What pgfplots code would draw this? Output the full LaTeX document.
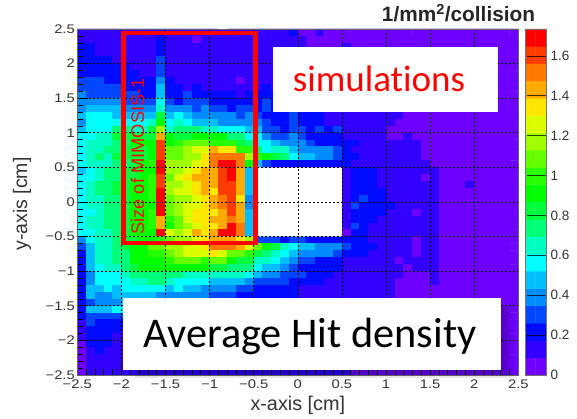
\documentclass[border=0pt]{standalone}
\usepackage{pgfplots}
\usepackage{fontspec}
\pgfplotsset{compat=1.18}
\setmainfont{Liberation Sans}
\newfontfamily\ticks[FakeStretch=1.18]{Liberation Sans}
\newfontfamily\cali[Ligatures=NoCommon]{Carlito}
\pgfplotsset{colormap={root}{rgb255=(110,0,255) rgb255=(50,0,255) rgb255=(0,10,255) rgb255=(0,70,255) rgb255=(0,140,255) rgb255=(0,190,255) rgb255=(0,255,255) rgb255=(0,255,195) rgb255=(0,255,120) rgb255=(0,255,60) rgb255=(0,255,0) rgb255=(40,255,0) rgb255=(100,255,0) rgb255=(160,255,0) rgb255=(220,255,0) rgb255=(255,230,0) rgb255=(255,170,0) rgb255=(255,120,0) rgb255=(255,60,0) rgb255=(255,0,0)}}
\newcount\cx \newcount\cy
\def\coords{}
\newcommand\R[1]{\global\cx=0 \foreach \v in {#1}{\pgfmathsetmacro\xx{-2.45+0.1*\the\cx}\pgfmathsetmacro\yy{2.45-0.1*\the\cy}\pgfmathsetmacro\mm{(\v+0.5)*0.08675}\xdef\coords{\coords(\xx,\yy)[\mm]}\global\advance\cx by 1 }\global\advance\cy by 1 }
\R{1,1,1,1,1,1,1,1,1,2, 1,1,1,1,1,1,1,1,1,1, 1,1,1,1,2,0,0,1,0,0, 0,0,0,0,0,0,0,0,0,0, 0,0,0,0,0,0,0,0,0,0}
\R{1,1,1,1,1,1,1,1,1,2, 1,1,1,0,1,1,1,1,1,1, 1,1,1,1,1,1,0,0,0,0, 0,0,0,0,0,0,0,0,0,0, 0,0,0,0,0,0,0,0,0,0}
\R{2,2,1,1,1,1,1,1,1,2, 1,1,1,1,1,1,1,1,1,1, 1,1,1,1,1,1,0,0,0,0, 1,0,0,0,0,0,0,0,0,0, 0,0,0,0,0,0,0,0,0,0}
\R{2,2,1,1,1,1,1,1,1,2, 1,1,1,1,1,1,1,1,1,1, 1,1,1,1,1,1,1,1,1,1, 1,1,1,0,0,0,0,0,0,0, 0,0,0,0,0,0,0,0,0,0}
\R{2,2,2,2,1,1,1,1,1,3, 1,1,1,1,1,1,1,1,1,1, 1,1,1,1,1,1,1,1,1,1, 1,1,1,0,0,0,0,0,0,0, 0,0,0,0,0,0,0,0,0,0}
\R{2,2,2,2,2,2,1,1,1,3, 1,1,1,1,1,1,1,1,1,1, 1,1,1,1,1,1,1,1,1,1, 1,1,1,1,0,0,0,0,0,0, 0,0,0,0,0,0,0,0,0,0}
\R{2,2,2,2,2,2,2,1,1,3, 1,1,1,1,1,1,1,1,1,1, 1,1,1,1,1,1,1,1,1,1, 1,1,1,1,1,0,0,0,0,0, 0,0,0,0,0,0,0,0,0,0}
\R{3,3,3,2,2,2,2,2,2,4, 2,1,1,1,1,1,1,1,0,1, 1,1,1,1,1,1,1,1,1,1, 1,1,1,1,1,0,0,0,0,0, 0,0,0,0,0,0,0,0,0,0}
\R{3,3,3,3,3,2,2,2,2,5, 2,2,1,2,1,1,1,1,1,1, 1,2,1,1,1,1,1,1,1,1, 1,1,1,1,1,0,0,0,0,0, 0,0,0,0,0,0,0,0,0,0}
\R{4,3,3,3,3,3,3,2,2,5, 2,2,3,2,2,2,2,2,1,2, 2,2,2,2,2,1,1,1,1,1, 1,1,1,1,1,1,0,0,0,0, 0,0,0,0,0,0,0,0,0,0}
\R{4,4,4,4,4,3,3,3,3,6, 3,2,3,3,3,2,2,2,2,2, 2,3,2,2,2,2,2,1,1,1, 1,1,1,1,1,1,0,0,0,0, 0,0,0,0,0,0,0,0,0,0}
\R{4,5,5,5,5,4,4,4,4,7, 4,4,4,3,4,3,3,2,3,3, 2,3,2,2,2,2,2,2,1,1, 1,1,1,1,1,1,0,0,0,0, 0,0,0,0,0,0,0,0,0,0}
\R{5,6,6,6,5,5,5,5,5,9, 5,6,5,4,4,4,4,4,3,4, 3,2,2,2,3,2,2,2,1,1, 1,1,1,1,1,1,1,0,0,0, 0,0,0,0,0,0,0,0,0,0}
\R{4,6,6,6,6,6,6,6,7,10, 6,7,6,5,5,5,4,4,4,4, 4,3,2,2,3,2,2,2,1,1, 1,1,1,1,1,1,0,0,0,0, 0,0,0,0,0,0,0,0,0,0}
\R{5,6,6,6,8,8,7,7,9,13, 7,8,8,8,7,7,6,6,6,5, 5,3,3,2,3,3,2,3,2,3, 1,1,1,1,1,0,0,0,0,0, 0,0,0,0,0,0,0,0,0,0}
\R{6,6,7,7,9,9,9,9,9,16, 10,9,9,10,10,10,10,8,8,6, 6,4,3,3,4,3,2,2,2,2, 1,1,1,1,1,0,0,1,0,0, 0,0,0,0,0,0,0,0,0,0}
\R{6,7,7,7,8,8,10,10,10,18, 10,11,12,12,12,11,11,11,9,8, 6,6,5,4,4,4,3,2,2,2, 2,2,1,1,1,1,1,1,1,0, 0,0,0,0,0,0,0,0,0,0}
\R{6,7,7,8,8,9,9,9,10,18, 12,12,13,14,14,16,15,15,11,11, 8,6,7,7,5,4,4,4,4,3, 2,1,1,1,1,1,1,1,1,0, 0,0,0,0,0,0,0,0,0,0}
\R{6,7,8,7,9,9,9,9,10,18, 12,12,13,13,15,17,17,17,17,13, 11,10,9,8,6,5,5,4,4,3, 2,2,1,1,1,1,1,1,1,0, 0,0,0,0,0,0,0,0,0,0}
\R{6,7,7,7,8,8,9,10,11,19, 13,13,13,14,15,17,19,19,17,10, 5,3,2,2,2,2,2,2,2,2, 2,1,1,1,1,1,1,1,1,1, 0,0,0,0,0,0,0,0,0,0}
\R{5,6,7,8,8,9,9,10,10,19, 13,13,14,15,16,16,18,19,16,5, 0,0,0,0,0,0,0,0,0,0, 1,2,2,2,1,1,1,1,1,1, 1,0,0,0,0,0,0,0,0,0}
\R{6,6,7,8,8,9,9,10,11,18, 12,14,15,16,16,16,18,19,16,5, 0,0,0,0,0,0,0,0,0,0, 1,2,2,2,1,1,1,1,1,0, 1,0,0,0,0,0,0,0,0,0}
\R{6,7,8,8,9,9,10,10,11,18, 13,13,14,15,16,16,18,18,16,5, 0,0,0,0,0,0,0,0,0,0, 1,2,2,2,1,1,1,1,1,1, 1,0,0,0,1,0,0,0,0,0}
\R{6,7,8,8,9,9,10,10,11,19, 13,14,14,15,16,15,18,18,16,5, 0,0,0,0,0,0,0,0,0,0, 1,2,2,2,2,1,1,1,1,1, 1,0,0,0,0,0,0,0,0,0}
\R{6,7,7,8,8,9,10,10,11,19, 12,13,13,14,15,16,17,18,15,4, 0,0,0,0,0,0,0,0,0,0, 1,2,3,2,2,1,1,1,1,1, 1,0,0,0,0,0,0,0,0,0}
\R{6,7,7,8,8,9,10,10,10,19, 12,13,14,14,15,16,17,18,16,4, 0,0,0,0,0,0,0,0,0,0, 1,3,2,2,2,2,1,1,1,1, 1,0,0,0,0,0,0,0,0,0}
\R{6,6,7,8,8,9,10,10,11,19, 12,13,14,15,15,15,16,18,16,5, 0,0,0,0,0,0,0,0,0,0, 1,2,2,2,2,1,1,1,0,1, 1,0,0,0,0,0,0,0,0,0}
\R{6,7,7,8,8,9,10,10,11,16, 11,12,14,15,15,16,16,17,16,5, 0,0,0,0,0,0,0,0,0,0, 1,2,2,2,1,1,1,1,1,1, 1,0,0,0,0,0,0,0,0,0}
\R{6,7,7,8,8,9,10,10,11,16, 10,12,13,14,15,15,16,19,17,5, 0,0,0,0,0,0,0,0,0,0, 1,3,2,1,1,1,1,1,1,1, 1,0,0,0,0,0,0,0,0,0}
\R{6,6,7,7,8,9,10,10,10,19, 14,13,14,16,15,16,19,19,17,5, 0,0,0,0,0,0,0,0,0,0, 0,2,2,1,1,1,1,1,1,1, 1,0,0,0,0,0,0,0,0,0}
\R{4,6,7,7,8,9,9,10,10,11, 12,13,13,14,15,16,16,16,15,13, 3,3,3,2,3,3,2,2,2,2, 2,2,2,1,1,1,1,1,0,1, 1,0,0,0,0,0,0,0,0,0}
\R{3,5,7,7,8,9,10,10,12,12, 13,13,14,14,15,17,17,17,16,14, 12,10,9,7,6,5,5,4,4,4, 3,2,2,2,1,1,1,1,0,1, 1,0,0,0,0,0,0,0,0,0}
\R{2,5,7,7,8,8,10,10,11,11, 12,13,14,14,14,15,14,12,12,11, 9,8,7,6,5,4,4,4,4,3, 2,2,2,1,1,1,1,1,0,1, 1,0,0,0,0,0,0,0,0,0}
\R{2,5,7,7,8,8,10,10,10,10, 11,12,12,12,11,12,12,10,9,9, 7,7,6,5,4,3,3,2,2,2, 1,1,1,1,1,1,0,1,1,1, 1,0,0,0,0,0,0,0,0,0}
\R{2,5,6,7,7,8,9,10,10,10, 10,10,10,10,10,9,9,8,8,8, 6,5,5,4,3,2,2,2,2,2, 1,1,1,1,1,1,1,0,1,1, 1,0,0,0,0,0,0,0,0,0}
\R{2,4,6,6,6,7,8,8,8,8, 8,8,7,7,7,7,7,7,7,6, 5,4,4,3,3,3,2,2,2,1, 1,1,1,1,1,1,1,0,0,0, 1,0,0,0,0,0,0,0,0,0}
\R{2,4,6,6,6,6,7,7,8,8, 7,6,6,6,6,5,5,5,5,4, 3,3,3,3,2,2,2,2,1,1, 1,1,1,1,1,1,0,0,0,0, 1,0,0,0,0,0,0,0,0,0}
\R{2,5,5,6,5,6,6,6,6,6, 5,6,5,5,4,4,4,4,3,3, 2,2,2,2,2,1,1,1,1,1, 1,1,1,1,1,1,0,0,0,0, 0,0,0,0,0,0,0,0,0,0}
\R{2,5,4,4,5,5,5,5,5,4, 4,4,4,4,4,3,3,3,2,2, 2,2,2,2,2,1,1,1,1,1, 1,1,1,1,1,1,0,0,0,0, 0,0,0,0,0,0,0,0,0,0}
\R{2,3,4,4,4,5,4,4,4,4, 3,3,3,3,3,3,2,2,2,2, 2,1,1,1,1,1,1,1,1,1, 1,1,1,1,1,0,0,0,0,0, 0,0,0,0,0,0,0,0,0,0}
\R{2,5,5,5,6,6,4,4,4,4, 3,3,3,3,3,3,2,2,2,2, 2,1,1,1,1,1,1,1,1,1, 1,1,1,1,0,0,0,0,0,0, 0,0,0,0,0,0,0,0,0,0}
\R{2,3,3,3,3,3,3,3,3,3, 3,3,3,2,2,2,2,2,2,1, 1,1,1,1,1,1,1,1,1,1, 1,1,1,1,0,0,0,0,0,0, 0,0,0,0,0,0,0,0,0,0}
\R{1,3,2,2,2,2,2,2,2,2, 2,2,2,2,2,2,2,1,1,1, 1,1,1,1,1,1,1,1,1,1, 1,1,1,0,0,0,0,0,0,0, 0,0,0,0,0,0,0,0,0,0}
\R{1,2,2,2,2,1,2,2,2,2, 2,2,1,1,1,1,1,1,1,1, 1,1,1,1,1,1,1,1,1,1, 1,1,1,0,0,0,0,0,0,0, 0,0,0,0,0,0,0,0,0,0}
\R{1,2,2,2,1,1,1,1,1,1, 1,1,1,1,1,1,1,1,1,1, 1,1,1,1,1,1,1,1,1,1, 1,1,0,0,0,0,0,0,0,0, 0,0,0,0,0,0,0,0,0,0}
\R{0,2,2,2,1,1,1,1,1,1, 1,1,1,1,1,1,1,1,1,1, 1,1,1,1,1,1,1,1,1,1, 1,1,0,0,0,0,0,0,0,0, 0,0,0,0,0,0,0,0,0,0}
\R{0,1,2,1,1,1,1,1,1,1, 1,1,1,1,1,1,1,1,1,1, 1,1,1,1,1,1,1,1,1,1, 1,0,0,0,0,0,0,0,0,0, 0,0,0,0,0,0,0,0,0,0}
\R{0,1,1,1,1,1,1,1,1,1, 1,1,1,1,1,1,1,1,1,1, 1,1,1,1,1,1,1,1,1,1, 1,0,0,0,0,0,0,0,0,0, 0,0,0,0,0,0,0,0,0,0}
\R{0,1,1,1,1,1,1,1,1,1, 1,1,1,1,1,1,1,1,1,1, 1,1,1,1,1,1,1,1,1,1, 1,0,0,0,0,0,0,0,0,0, 0,0,0,0,0,0,0,0,0,0}
\R{0,1,1,1,1,1,1,1,1,1, 1,1,1,1,1,1,1,1,1,1, 1,1,1,1,1,1,1,1,1,1, 1,0,0,0,0,0,0,0,0,0, 0,0,0,0,0,0,0,0,0,0}
\def\barc{}
\foreach \i in {0,...,19}{\pgfmathsetmacro\yy{(\i+0.5)*0.08675}\xdef\barc{\barc(0,\yy)[\yy](1,\yy)[\yy]}}
\definecolor{tk}{gray}{0.2}
\begin{document}
\begin{tikzpicture}[x=1pt,y=1pt]
\path[use as bounding box] (0,0) rectangle (577,419);
\begin{axis}[name=main,at={(77.3pt,44pt)},anchor=south west,scale only axis,width=441pt,height=346pt,
 xmin=-2.5,xmax=2.5,ymin=-2.5,ymax=2.5,axis on top,colormap name=root,colormap access=piecewise constant,
 point meta min=0,point meta max=1.735,
 xtick={-2.5,-2,...,2.5},ytick={-2.5,-2,...,2.5},
 xticklabels={−2.5,−2,−1.5,−1,−0.5,0,0.5,1,1.5,2,2.5},
 yticklabels={−2.5,−2,−1.5,−1,−0.5,0,0.5,1,1.5,2,2.5},
 minor tick num=4,tick align=inside,xtick pos=bottom,ytick pos=left,
 major tick length=11pt,minor tick length=6pt,
 tick style={black,line width=0.6pt},
 axis line style={black!60,line width=0.8pt},
 grid=major,grid style={black,dash pattern=on 2pt off 2pt,line width=0.6pt},
 tick label style={font=\ticks\fontsize{12.5}{14}\selectfont,text=tk},
 xticklabel style={yshift=-1pt},
 yticklabel style={xshift=1pt},
 xlabel={x-axis [cm]},ylabel={y-axis [cm]},
 xlabel style={at={(axis description cs:0.5,-0.087)},anchor=center,font=\fontsize{19.8}{22}\selectfont,text=tk},
 ylabel style={at={(axis description cs:-0.125,0.494)},anchor=center,font=\fontsize{19.5}{22}\selectfont,text=tk},
]
\edef\tmp{\noexpand\addplot[matrix plot*,mesh/cols=50,mesh/rows=50,point meta=explicit] coordinates {\coords};}\tmp
\addplot[fill=white,draw=none] coordinates {(-0.5,-0.5)(0.5,-0.5)(0.5,0.5)(-0.5,0.5)} \closedcycle;
\end{axis}
\begin{axis}[at={(525pt,44pt)},anchor=south west,scale only axis,width=21pt,height=346pt,
 xmin=-0.5,xmax=1.5,ymin=0,ymax=1.735,colormap name=root,colormap access=piecewise constant,
 point meta min=0,point meta max=1.735,axis on top,
 xtick=\empty,ytick={0,0.2,...,1.6},
 yticklabels={0,0.2,0.4,0.6,0.8,1,1.2,1.4,1.6},
 ytick pos=right,tick align=inside,major tick length=19pt,
 tick style={black,opacity=0.75,line width=0.7pt},
 axis line style={black!55,line width=0.8pt},
 tick label style={font=\fontsize{13.5}{15}\selectfont,text=tk},
 yticklabel style={xshift=1pt},
]
\edef\tmp{\noexpand\addplot[matrix plot*,mesh/cols=2,mesh/rows=20,point meta=explicit] coordinates {\barc};}\tmp
\end{axis}
\node[anchor=base,font=\bfseries\fontsize{20.8}{23}\selectfont,text=black!85] at (458.5,397) {1/mm\textsuperscript{2}/collision};
\fill[black,opacity=0.09] (135,113) rectangle (504,46);
\fill[black,opacity=0.09] (135,113) rectangle (508,43.5);
\fill[black,opacity=0.09] (135,113) rectangle (513,41);
\fill[white] (273,372) rectangle (498,307);
\fill[white] (123,121) rectangle (501,49);
\draw[red,line width=4.3pt] (123.5,386) rectangle (255.5,176);
\node[rotate=90,anchor=base,text=red,font=\fontsize{18.3}{20}\selectfont] at (144,262.5) {Size of MIMOSIS-1};
\node[anchor=base,text=red,font=\cali\fontsize{37}{40}\selectfont] at (379,327) {simulations};
\node[anchor=base,text=black,font=\cali\fontsize{42.3}{46}\selectfont] at (310,71) {Average Hit density};
\end{tikzpicture}
\end{document}
